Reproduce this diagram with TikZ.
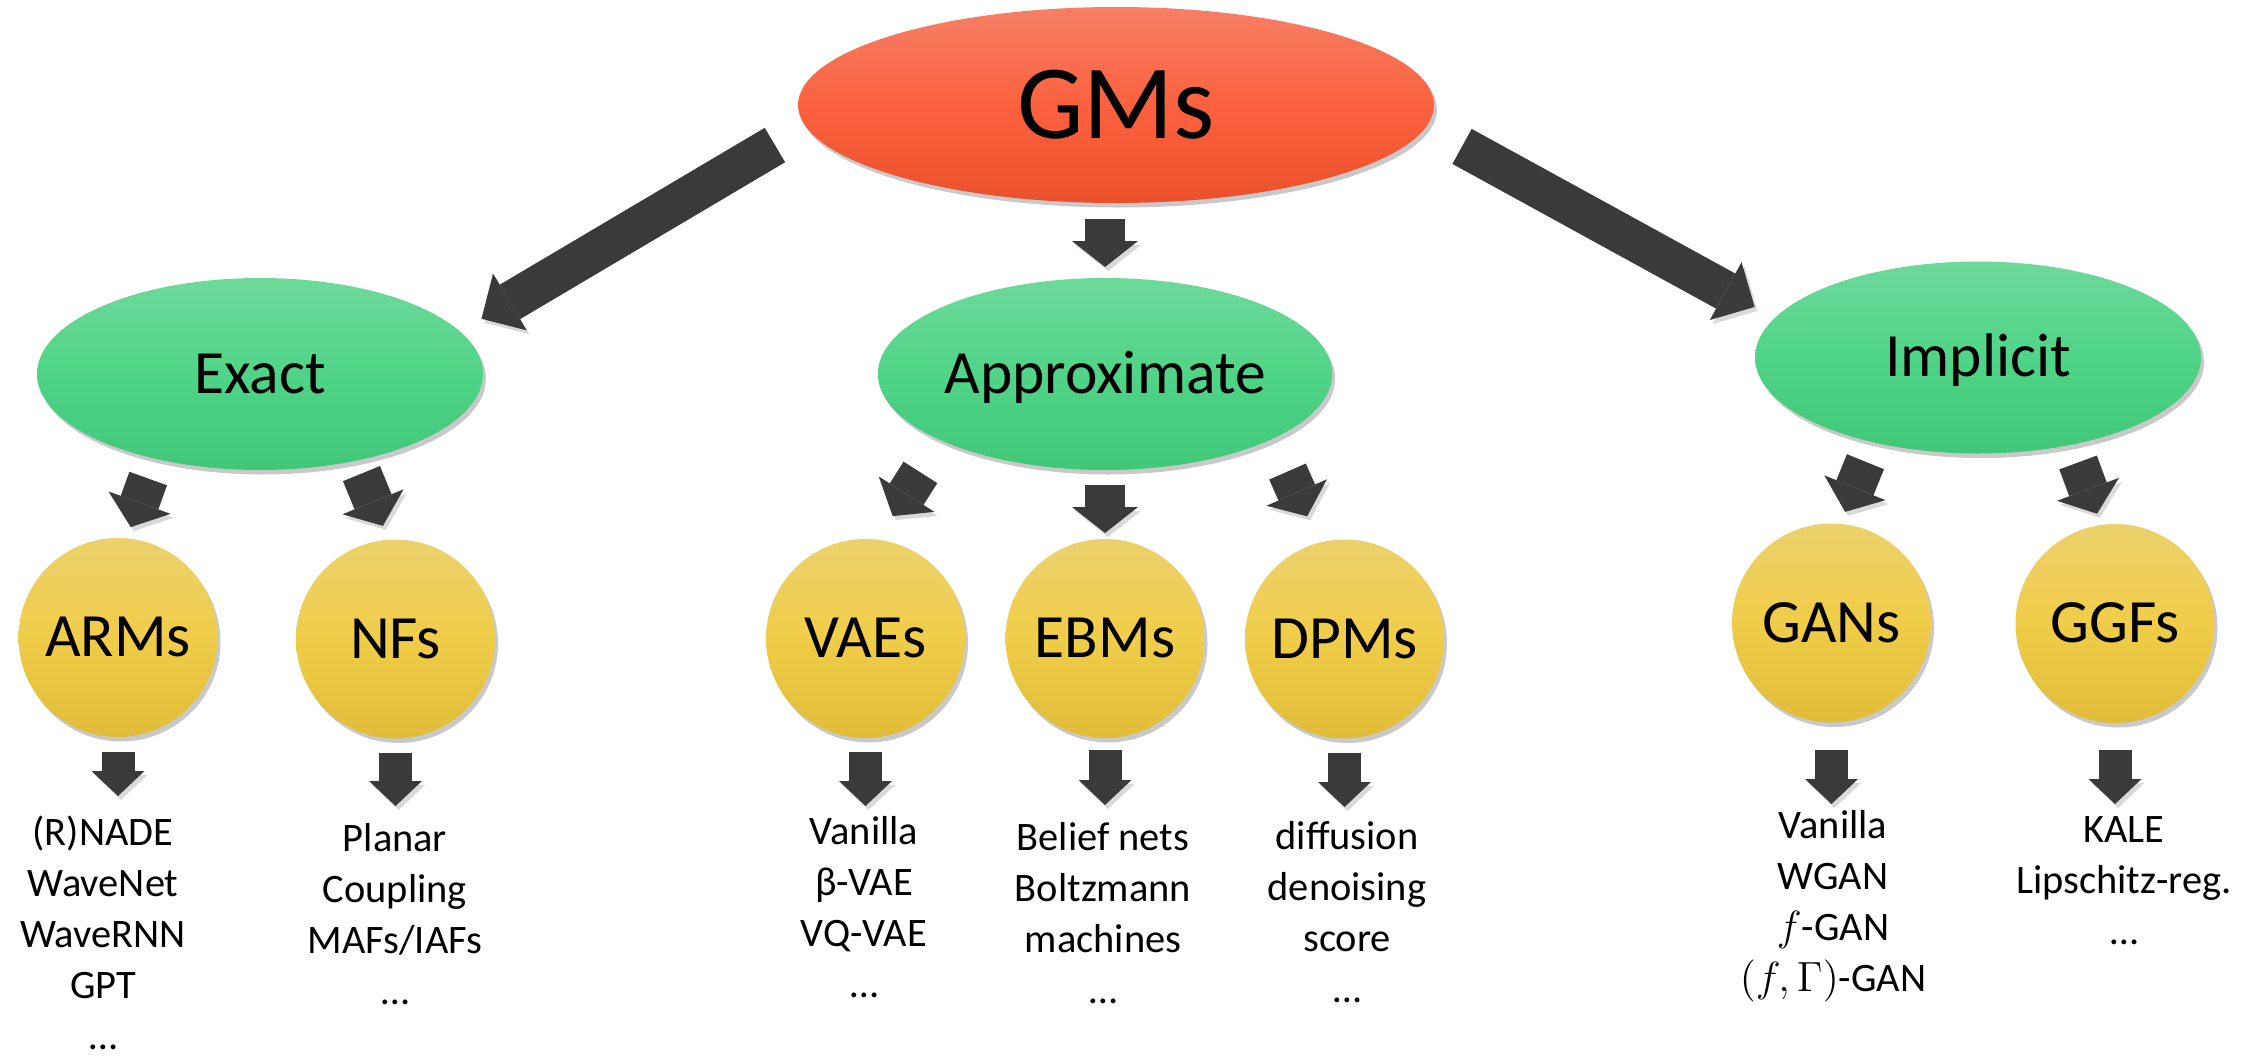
\documentclass[tikz,border=0pt]{standalone}
\usepackage{fontspec}
\setmainfont{Carlito}
\usetikzlibrary{arrows.meta, shapes.geometric, shadows}
\definecolor{cRedTop}{RGB}{246,127,101}
\definecolor{cRedMid}{RGB}{251,97,62}
\definecolor{cRedBot}{RGB}{235,81,42}
\definecolor{cGreenTop}{RGB}{109,217,153}
\definecolor{cGreenMid}{RGB}{80,212,136}
\definecolor{cGreenBot}{RGB}{64,199,120}
\definecolor{cYellowTop}{RGB}{236,209,108}
\definecolor{cYellowMid}{RGB}{240,205,73}
\definecolor{cYellowBot}{RGB}{224,188,56}
\definecolor{cArrow}{RGB}{58,58,58}

\begin{document}
\begin{tikzpicture}[
  softshadow/.style={drop shadow={shadow xshift=0.03cm, shadow yshift=-0.045cm,
                     opacity=0.3, fill=black!70}},
  root/.style={ellipse, inner sep=0pt, outer sep=0pt,
               minimum width=6.36cm, minimum height=1.96cm,
               top color=cRedTop, bottom color=cRedBot, middle color=cRedMid,
               font=\fontsize{30}{36}\selectfont, text height=19pt, text depth=0pt,
               softshadow},
  family/.style={ellipse, inner sep=0pt, outer sep=0pt,
                 minimum width=4.46cm, minimum height=1.92cm,
                 top color=cGreenTop, bottom color=cGreenBot, middle color=cGreenMid,
                 font=\fontsize{17.5}{21}\selectfont, text height=11pt, text depth=0pt,
                 softshadow},
  model/.style={circle, inner sep=0pt, outer sep=0pt, minimum size=1.99cm,
                top color=cYellowTop, bottom color=cYellowBot, middle color=cYellowMid,
                font=\fontsize{17.5}{21}\selectfont, text height=11pt, text depth=0pt,
                softshadow},
  examples/.style={align=center, anchor=north, inner sep=0pt,
                   font=\fontsize{11.5}{14.5}\selectfont},
  arrshadow/.style={preaction={draw=black, opacity=0.15,
                    transform canvas={shift={(0.03cm,-0.04cm)}}}},
  arr/.style={draw=cArrow, line width=0.40cm,
              -{Triangle[length=0.26cm, width=0.66cm, line width=0pt]}, arrshadow},
  bigarr/.style={arr, -{Triangle[length=0.33cm, width=0.66cm, line width=0pt]}},
  downarr/.style={draw=cArrow, line width=0.33cm,
                  -{Triangle[length=0.25cm, width=0.53cm, line width=0pt]}, arrshadow}
]
\useasboundingbox (0,0) rectangle (22.61,10.58);

%% top level
\node[root] (gms) at (11.16, 9.53) {GMs};

%% families
\node[family] (exact)    at (2.60, 6.84)  {Exact};
\node[family] (approx)   at (11.05, 6.84) {Approximate};
\node[family] (implicit) at (19.78, 7.005) {Implicit};

%% model classes
\node[model] (arms) at (1.18, 4.205)  {ARMs};
\node[model] (nfs)  at (3.955, 4.19)  {NFs};
\node[model] (vaes) at (8.655, 4.195) {VAEs};
\node[model] (ebms) at (11.05, 4.195) {EBMs};
\node[model] (dpms) at (13.445, 4.19) {DPMs};
\node[model] (gans) at (18.315, 4.35) {GANs};
\node[model] (ggfs) at (21.15, 4.345) {GGFs};

%% examples
\node[examples] (ex_arms) at (1.03, 2.43)  {(R)NADE\\WaveNet\\WaveRNN\\GPT\\…};
\node[examples] (ex_nfs)  at (3.95, 2.35)  {Planar\\Coupling\\MAFs/IAFs\\…};
\node[examples] (ex_vaes) at (8.64, 2.42)  {Vanilla\\β-VAE\\VQ-VAE\\…};
\node[examples] (ex_ebms) at (11.03, 2.36) {Belief nets\\Boltzmann\\machines\\…};
\node[examples] (ex_dpms) at (13.47, 2.37) {diffusion\\denoising\\score\\…};
\node[examples] (ex_gans) at (18.33, 2.48) {Vanilla\\WGAN\\$f$-GAN\\$(f,\Gamma)$-GAN};
\node[examples] (ex_ggfs) at (21.24, 2.42) {KALE\\Lipschitz-reg.\\…};

%% arrows: GMs -> families
\draw[bigarr, shorten <=0.36cm, shorten >=0.25cm] (gms.184.7) -- (exact.12.4);
\draw[arr,    shorten <=0.16cm, shorten >=0.11cm] (gms.south -| approx) -- (approx.north);
\draw[bigarr, shorten <=0.41cm, shorten >=0.23cm] (gms.356.1) -- (implicit.169.3);

%% arrows: families -> model classes
\draw[arr, shorten <=0.21cm, shorten >=0.12cm] (exact.219.9)    -- (arms.85.7);
\draw[arr, shorten <=0.14cm, shorten >=0.15cm] (exact.318.8)    -- (nfs.94.9);
\draw[arr, shorten <=0.38cm, shorten >=0.28cm] (approx.202.8)   -- (vaes.83.2);
\draw[arr, shorten <=0.15cm, shorten >=0.06cm] (approx.south)   -- (ebms.north);
\draw[arr, shorten <=0.36cm, shorten >=0.29cm] (approx.339.8)   -- (dpms.105.7);
\draw[arr, shorten <=0.21cm, shorten >=0.13cm] (implicit.219.2) -- (gans.85.9);
\draw[arr, shorten <=0.19cm, shorten >=0.12cm] (implicit.317.2) -- (ggfs.98.8);

%% arrows: model classes -> examples
\foreach \m/\a/\b in {arms/0.15cm/0.19cm, nfs/0.14cm/0.17cm, vaes/0.14cm/0.10cm,
                      ebms/0.12cm/0.17cm, dpms/0.14cm/0.14cm, gans/0.27cm/0.06cm,
                      ggfs/0.27cm/0.12cm}
  \draw[downarr, shorten <=\a, shorten >=\b] (\m.south) -- (\m.south |- ex_\m.north);

\end{tikzpicture}
\end{document}
